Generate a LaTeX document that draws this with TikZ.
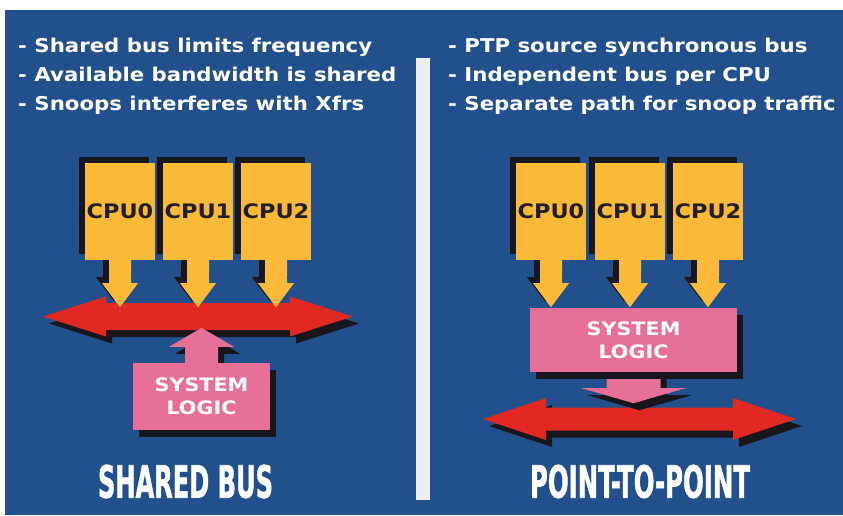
\documentclass[tikz,border=0pt]{standalone}
\usepackage{fontspec}
\usetikzlibrary{calc,positioning}
\newfontfamily\featfont{DejaVu Sans}[FakeStretch=1.12]
\newfontfamily\headfont{DejaVu Sans Condensed}[FakeBold=1.5]

\definecolor{bgblue}{RGB}{33,80,140}
\definecolor{cpuyellow}{RGB}{250,185,55}
\definecolor{cputext}{RGB}{35,30,45}
\definecolor{busred}{RGB}{225,40,35}
\definecolor{syspink}{RGB}{230,112,152}
\definecolor{shadowblack}{RGB}{22,22,28}
\definecolor{divider}{RGB}{236,238,240}

\tikzset{
	cpubox/.style={fill=cpuyellow, text=cputext, minimum width=70pt, minimum height=97pt, inner sep=0pt,
		font=\featfont\bfseries\fontsize{20}{20}\selectfont},
	sysbox/.style={fill=syspink, text=white, align=center, inner sep=0pt,
		font=\featfont\bfseries\fontsize{18.5}{23}\selectfont},
	feature/.style={text=white, anchor=base west, inner sep=0pt, font=\featfont\bfseries\fontsize{19}{19}\selectfont},
	heading/.style={text=white, inner sep=0pt},
	shadowul/.style={fill=shadowblack, transform canvas={xshift=-6pt,yshift=6pt}},
	shadowdr/.style={fill=shadowblack, transform canvas={xshift=6pt,yshift=-7pt}},
}

% #1 style, #2 start, #3 tip, #4 half stem, #5 half head, #6 head length
\newcommand\fatarrow[6]{%
	\path ($(#3)!#6!(#2)$) coordinate (fah);
	\fill[#1] ($(#2)!#4!90:(#3)$) -- ($(fah)!#4!90:(#3)$) -- ($(fah)!#5!90:(#3)$) -- (#3)
		-- ($(fah)!#5!-90:(#3)$) -- ($(fah)!#4!-90:(#3)$) -- ($(#2)!#4!-90:(#3)$) -- cycle;}
% #1 style, #2 west tip, #3 east tip, #4 half body, #5 half head, #6 head length
\newcommand\busarrow[6]{%
	\fill[#1] (#2) -- ($(#2)+(#6,-#5)$) -- ($(#2)+(#6,-#4)$) -- ($(#3)+(-#6,-#4)$) -- ($(#3)+(-#6,-#5)$) -- (#3)
		-- ($(#3)+(-#6,#5)$) -- ($(#3)+(-#6,#4)$) -- ($(#2)+(#6,#4)$) -- ($(#2)+(#6,#5)$) -- cycle;}
\newcommand\headtext[2]{\resizebox{#1}{33pt}{\headfont\bfseries #2}}

\begin{document}
\begin{tikzpicture}[x=1pt,y=-1pt]
	\useasboundingbox (0,0) rectangle (843,515);
	\fill[white] (0,0) rectangle (843,515);
	\fill[bgblue] (5,10) rectangle (843,515);
	\fill[divider] (416,58) rectangle (430,500);

	\foreach \t [count=\i] in {- Shared bus limits frequency, - Available bandwidth is shared, - Snoops interferes with Xfrs}
		\node[feature] (lfeat\i) at (18,{52+29*(\i-1)}) {\t};
	\foreach \t [count=\i] in {- PTP source synchronous bus, - Independent bus per CPU, - Separate path for snoop traffic}
		\node[feature] (rfeat\i) at (448,{52+29*(\i-1)}) {\t};

	% shared bus
	\coordinate (lbusW) at (43,316.5);
	\coordinate (lbusE) at (353,316.5);
	\busarrow{shadowdr}{lbusW}{lbusE}{13.5}{20}{63}
	\busarrow{fill=busred}{lbusW}{lbusE}{13.5}{20}{63}

	\node[sysbox, minimum width=137pt, minimum height=67pt] (lsys) at (201.5,396.5) {SYSTEM\\LOGIC};
	\coordinate (lsysup) at ($(lsys.north)+(0,-35)$);
	\fatarrow{shadowdr}{lsys.north}{lsysup}{16.5pt}{32.5pt}{19pt}
	\fatarrow{fill=syspink}{lsys.north}{lsysup}{16.5pt}{32.5pt}{19pt}
	\fill[shadowdr] (lsys.south west) rectangle (lsys.north east);
	\node[sysbox, minimum width=137pt, minimum height=67pt] (lsys) at (201.5,396.5) {SYSTEM\\LOGIC};

	\foreach \n/\x in {0/120,1/198,2/276}{
		\node[cpubox] (lcpu\n) at (\x,211.5) {CPU\n};
		\coordinate (lcpu\n tip) at ($(lcpu\n.south)+(0,47)$);
		\fatarrow{shadowul}{lcpu\n.south}{lcpu\n tip}{11pt}{18pt}{24pt}
	}
	\foreach \n in {0,1,2}{
		\fatarrow{fill=cpuyellow}{lcpu\n.south}{lcpu\n tip}{11pt}{18pt}{24pt}
		\fill[shadowul] (lcpu\n.south west) rectangle (lcpu\n.north east);
	}
	\foreach \n/\x in {0/120,1/198,2/276}
		\node[cpubox] (lcpu\n) at (\x,211.5) {CPU\n};

	% point to point
	\coordinate (rbusW) at (483,419);
	\coordinate (rbusE) at (796,419);
	\busarrow{shadowdr}{rbusW}{rbusE}{11.5}{21}{63}
	\busarrow{fill=busred}{rbusW}{rbusE}{11.5}{21}{63}

	\node[sysbox, minimum width=207pt, minimum height=64pt] (rsys) at (633.5,340) {SYSTEM\\LOGIC};
	\coordinate (rsysdown) at ($(rsys.south)+(0,31)$);
	\fatarrow{shadowdr}{rsys.south}{rsysdown}{27pt}{52pt}{15pt}
	\fatarrow{fill=syspink}{rsys.south}{rsysdown}{27pt}{52pt}{15pt}
	\fill[shadowdr] (rsys.south west) rectangle (rsys.north east);
	\node[sysbox, minimum width=207pt, minimum height=64pt] (rsys) at (633.5,340) {SYSTEM\\LOGIC};

	\foreach \n/\x in {0/551,1/630,2/708}{
		\node[cpubox] (rcpu\n) at (\x,211.5) {CPU\n};
		\coordinate (rcpu\n tip) at ($(rcpu\n.south)+(0,47)$);
		\fatarrow{shadowul}{rcpu\n.south}{rcpu\n tip}{11pt}{18pt}{24pt}
	}
	\foreach \n in {0,1,2}{
		\fatarrow{fill=cpuyellow}{rcpu\n.south}{rcpu\n tip}{11pt}{18pt}{24pt}
		\fill[shadowul] (rcpu\n.south west) rectangle (rcpu\n.north east);
	}
	\foreach \n/\x in {0/551,1/630,2/708}
		\node[cpubox] (rcpu\n) at (\x,211.5) {CPU\n};

	\node[heading] (lhead) at (185.5,481.5) {\headtext{175pt}{SHARED BUS}};
	\node[heading] (rhead) at (640,481.5) {\headtext{220pt}{POINT-TO-POINT}};
\end{tikzpicture}
\end{document}
